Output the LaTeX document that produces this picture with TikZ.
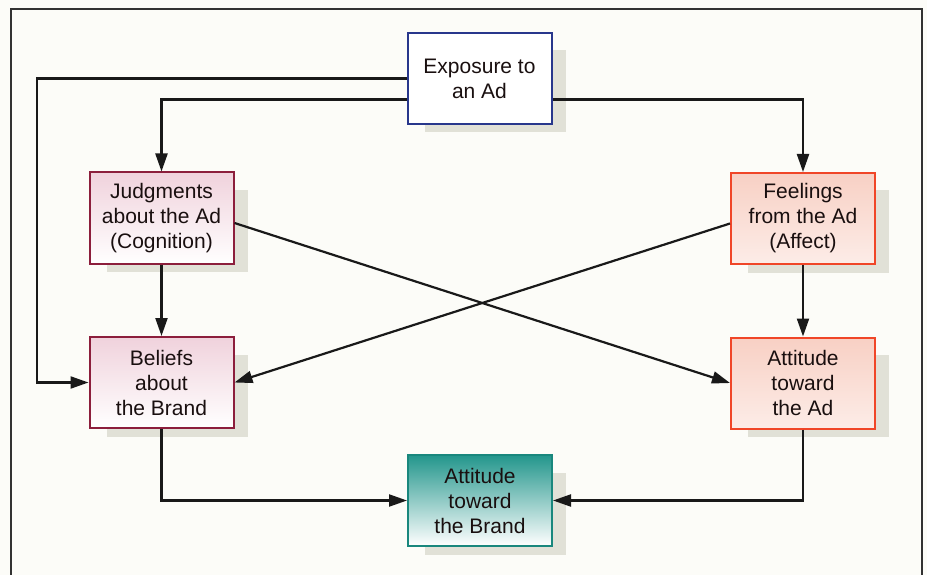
\documentclass[tikz,border=0pt]{standalone}
\usepackage{fontspec}
\setmainfont{Liberation Sans}
\usetikzlibrary{arrows.meta,shadings}
\definecolor{bgc}{RGB}{252,252,248}
\definecolor{framec}{RGB}{50,50,50}
\definecolor{maroon}{RGB}{140,30,60}
\definecolor{pinkfill}{RGB}{240,210,220}
\definecolor{orangec}{RGB}{240,70,40}
\definecolor{salmon}{RGB}{248,208,196}
\definecolor{navyc}{RGB}{40,55,140}
\definecolor{tealc}{RGB}{25,135,125}
\definecolor{tealfill}{RGB}{35,150,140}
\definecolor{txt}{RGB}{25,15,15}
\definecolor{shadowc}{RGB}{225,225,215}
\tikzset{
  boxbase/.style={rectangle, minimum width=144pt, minimum height=91pt, inner sep=0pt,
    align=center, font=\fontsize{21}{25}\selectfont, text=txt, line width=2pt},
  bluebox/.style={boxbase, draw=navyc, fill=white},
  pinkbox/.style={boxbase, draw=maroon, top color=pinkfill, bottom color=white, middle color=white!50!pinkfill},
  orangebox/.style={boxbase, draw=orangec, top color=salmon, bottom color=white!60!salmon},
  tealbox/.style={boxbase, draw=tealc, top color=tealfill, bottom color=white, middle color=tealfill!50},
  arr/.style={draw=black!90, line width=2.2pt, -{Triangle[length=18pt,width=12pt]}},
}
\begin{document}
\begin{tikzpicture}[x=1pt,y=-1pt]
\useasboundingbox (0,0) rectangle (927,575);
\fill[bgc] (0,0) rectangle (927,575);
\draw[framec, line width=1.6pt] (11,590) -- (11,9) -- (922,9) -- (922,590);
% shadows
\foreach \cx/\cy in {479.5/78.5, 161.5/218, 161.5/382.5, 803/218.5, 803/383, 480/500.5}{
  \fill[shadowc] (\cx-55,\cy-28) rectangle (\cx+86,\cy+54);
}
\node[bluebox] (exp) at (479.5,78.5) {Exposure to\\an Ad};
\node[pinkbox] (jud) at (161.5,218) {Judgments\\about the Ad\\(Cognition)};
\node[pinkbox] (bel) at (161.5,382.5) {Beliefs\\about\\the Brand};
\node[orangebox] (feel) at (803,218.5) {Feelings\\from the Ad\\(Affect)};
\node[orangebox] (aad) at (803,383) {Attitude\\toward\\the Ad};
\node[tealbox] (abr) at (480,500.5) {Attitude\\toward\\the Brand};
\coordinate (lft) at (37,230);
\draw[arr] (exp.west) -| (lft) |- (bel.west);
\draw[arr] ([yshift=-21pt]exp.west) -| (jud.north);
\draw[arr] ([yshift=-21pt]exp.east) -| (feel.north);
\draw[arr] (jud.south) -- (bel.north);
\draw[arr] (feel.south) -- (aad.north);
\draw[arr] ([yshift=-5pt]jud.east) -- (aad.west);
\draw[arr] ([yshift=-5pt]feel.west) -- (bel.east);
\draw[arr] (bel.south) |- (abr.west);
\draw[arr] (aad.south) |- (abr.east);
\end{tikzpicture}
\end{document}
